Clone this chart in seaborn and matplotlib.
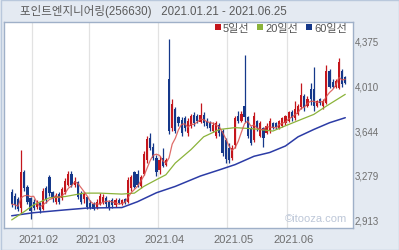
import numpy as np
import pandas as pd
import matplotlib
matplotlib.use("Agg")
import matplotlib.pyplot as plt
import seaborn as sns
from matplotlib.patches import Patch, Rectangle

# ---------------- data ----------------
title_name = "포인트엔지니어링(256630)"
title_period = "2021.01.21 - 2021.06.25"

open_ = [3140, 3110, 3080, 3010, 3300, 3180, 3090, 3060, 3020, 3050,
         3000, 3170, 3260, 3140, 3060, 3120, 3090, 3140, 3200, 3290,
         3200, 3220, 3130, 3080, 3100, 3050, 3040, 3010, 3040, 3060,
         3090, 3060, 3070, 3030, 3070, 3040, 3080, 3060, 3170, 3300,
         3290, 3190, 3290, 3400, 3580, 3510, 3420, 3320, 3420, 3360,
         4060, 3660, 3820, 3750, 3730, 3740, 3620, 3680, 3770, 3760,
         3710, 3770, 3720, 3700, 3640, 3600, 3690, 3640, 3560, 3500,
         3420, 3520, 3760, 3720, 3840, 3750, 3660, 3560, 3720, 3600,
         3660, 3620, 3640, 3700, 3700, 3660, 3680, 3700, 3720, 3790,
         3740, 3780, 3830, 3920, 3840, 3980, 3980, 3840, 3900, 3840,
         3870, 4130, 4040, 4000, 3990, 4130, 4080]
high = [3160, 3130, 3100, 3480, 3320, 3200, 3100, 3080, 3070, 3060,
        3170, 3190, 3280, 3150, 3130, 3140, 3180, 3250, 3310, 3310,
        3260, 3230, 3150, 3140, 3110, 3070, 3060, 3080, 3130, 3120,
        3110, 3070, 3090, 3090, 3090, 3080, 3090, 3260, 3280, 3310,
        3320, 3280, 3470, 3600, 3620, 3540, 3440, 3430, 3500, 3420,
        4390, 3900, 3830, 3760, 3750, 3760, 3740, 3780, 3790, 3780,
        3870, 3790, 3740, 3720, 3710, 3720, 3700, 3650, 3580, 3540,
        3520, 3760, 3800, 3800, 4260, 3760, 3680, 3790, 3730, 3720,
        3670, 3700, 3740, 3710, 3710, 3730, 3750, 3770, 3800, 3810,
        3880, 3860, 4030, 3940, 3920, 4030, 4160, 3890, 3910, 3900,
        4180, 4140, 4060, 4060, 4230, 4140, 4090]
low = [3020, 3000, 2980, 2960, 3150, 3040, 2920, 2990, 3000, 2970,
       2990, 3050, 3110, 3060, 3040, 3040, 3070, 3120, 3190, 3180,
       3180, 3080, 3040, 3050, 3000, 3000, 2990, 3000, 3030, 3040,
       3020, 2990, 3010, 3020, 3040, 3030, 3040, 3050, 3150, 3170,
       3180, 3170, 3280, 3380, 3480, 3400, 3270, 3290, 3340, 3350,
       3610, 3640, 3620, 3680, 3600, 3640, 3600, 3660, 3680, 3700,
       3700, 3680, 3660, 3640, 3630, 3580, 3600, 3430, 3380, 3380,
       3400, 3500, 3700, 3710, 3710, 3580, 3520, 3550, 3640, 3590,
       3510, 3610, 3620, 3650, 3650, 3650, 3670, 3690, 3710, 3720,
       3730, 3770, 3820, 3800, 3830, 3850, 3800, 3830, 3850, 3820,
       3860, 3990, 3990, 3990, 3980, 4000, 4020]
close = [3040, 3030, 3000, 3300, 3170, 3060, 2980, 3010, 3050, 2990,
         3150, 3070, 3130, 3090, 3110, 3060, 3160, 3230, 3290, 3200,
         3230, 3100, 3060, 3120, 3020, 3010, 3000, 3060, 3110, 3100,
         3040, 3010, 3030, 3070, 3050, 3070, 3050, 3240, 3260, 3180,
         3200, 3260, 3450, 3570, 3500, 3420, 3300, 3400, 3350, 3400,
         3640, 3860, 3640, 3700, 3620, 3660, 3720, 3760, 3700, 3720,
         3770, 3700, 3680, 3660, 3690, 3700, 3620, 3460, 3410, 3400,
         3500, 3740, 3720, 3780, 3750, 3600, 3540, 3760, 3660, 3700,
         3580, 3680, 3720, 3660, 3670, 3720, 3740, 3760, 3790, 3740,
         3820, 3840, 3930, 3830, 3900, 3900, 3840, 3880, 3870, 3880,
         4130, 4000, 4000, 4050, 4200, 4020, 4030]

# 20-day and 60-day moving averages (day index -> value)
ma20_day = [0, 4, 7, 12, 17, 23, 28, 35, 39, 42, 46, 49, 52, 57, 61, 66,
            71, 77, 83, 87, 92, 96, 100, 104, 106]
ma20_val = [2911, 2979, 3034, 3092, 3102, 3130, 3130, 3122, 3130, 3185,
            3240, 3280, 3376, 3486, 3590, 3650, 3665, 3655, 3637, 3680,
            3732, 3773, 3841, 3905, 3937]
ma60_day = [0, 7, 17, 24, 35, 40, 46, 52, 60, 66, 71, 77, 82, 87, 91, 96,
            101, 106]
ma60_val = [2945, 2970, 2993, 3008, 3012, 3060, 3133, 3185, 3270, 3320,
            3363, 3431, 3462, 3515, 3590, 3650, 3705, 3746]

month_labels = ["2021.02", "2021.03", "2021.04", "2021.05", "2021.06"]
month_start = [7, 25, 47, 69, 88]
y_ticks = [2913, 3279, 3644, 4010, 4375]
legend_labels = ["5일선", "20일선", "60일선"]

# ---------------- styling ----------------
sns.set_theme(style="white")
plt.rcParams['font.family'] = ['Liberation Sans', 'Noto Sans CJK KR', 'DejaVu Sans']

RED = "#C4161C"
BLUE = "#15388A"
MA5_C = "#D9534F"
MA20_C = "#8BB33A"
MA60_C = "#2C3CA6"
TXT = "#6E6E6E"
BG = "#E4EAF2"

W, H = 399, 251
fig = plt.figure(figsize=(W / 100, H / 100), dpi=100, facecolor=BG)

# outer border
fig.patches.append(Rectangle((0.5 / W, 0.5 / H), 1 - 1 / W, 1 - 1 / H,
                             transform=fig.transFigure, fill=False,
                             edgecolor="#B9C8DC", linewidth=1))

left, right, top, bottom = 3.5, 352.5, 23, 229
ax = fig.add_axes([left / W, 1 - bottom / H, (right - left) / W, (bottom - top) / H])
ax.set_facecolor("white")

df = pd.DataFrame({"day": np.arange(len(close)), "open": open_, "high": high,
                   "low": low, "close": close})
df["ma5"] = df["close"].rolling(5, min_periods=1).mean()
df["up"] = df["close"] >= df["open"]
ma20 = pd.DataFrame({"day": ma20_day, "value": ma20_val})
ma60 = pd.DataFrame({"day": ma60_day, "value": ma60_val})

# month grid lines
for m in month_start:
    ax.axvline(m - 0.5, color="#E2E2E2", linewidth=0.9, zorder=0)

# candles
colors = np.where(df["up"], RED, BLUE)
ax.vlines(df["day"], df["low"], df["high"], colors=colors, linewidth=0.9, zorder=2)
body_lo = np.minimum(df["open"], df["close"])
body_h = np.maximum(np.abs(df["close"] - df["open"]), 8)
ax.bar(df["day"], body_h, bottom=body_lo, width=0.7, color=colors,
       linewidth=0, zorder=3)

# moving averages
sns.lineplot(data=ma60, x="day", y="value", ax=ax, color=MA60_C, linewidth=1.1, zorder=4)
sns.lineplot(data=ma20, x="day", y="value", ax=ax, color=MA20_C, linewidth=0.9, zorder=4)
sns.lineplot(data=df, x="day", y="ma5", ax=ax, color=MA5_C, linewidth=0.9, alpha=0.85, zorder=5)

ax.set_xlim(-2.6, 108.3)
ax.set_ylim(2845, 4528)
ax.set_xlabel("")
ax.set_ylabel("")

ax.set_xticks([m + 1.5 for m in month_start])
ax.set_xticklabels(month_labels, fontsize=8, color=TXT)
ax.tick_params(axis="x", length=0, pad=4)
ax.yaxis.tick_right()
ax.set_yticks(y_ticks)
ax.set_yticklabels([f"{v:,}" for v in y_ticks], fontsize=7, color=TXT)
ax.tick_params(axis="y", length=0, pad=1.5)
ax.grid(False)

for s in ax.spines.values():
    s.set_color("#9FB0C8")
    s.set_linewidth(1)

# legend
handles = [Patch(facecolor=c, edgecolor="none") for c in (RED, MA20_C, BLUE)]
leg = ax.legend(handles, legend_labels, loc="upper right", ncol=3, frameon=False,
                fontsize=8, handlelength=0.55, handleheight=0.55, handletextpad=0.2,
                columnspacing=0.7, borderaxespad=0.05, bbox_to_anchor=(1.0, 1.02))
for t in leg.get_texts():
    t.set_color("#555555")

# watermark
ax.text(0.985, 0.025, "©itooza.com", transform=ax.transAxes, ha="right", va="bottom",
        fontsize=8, color="#BDC7D8", zorder=6)

# title
fig.text(20 / W, 1 - 12 / H, title_name + "   " + title_period, ha="left", va="center",
         fontsize=8.3, color="#5A5A5A")

fig.savefig("out.png", dpi=100, facecolor=BG)
